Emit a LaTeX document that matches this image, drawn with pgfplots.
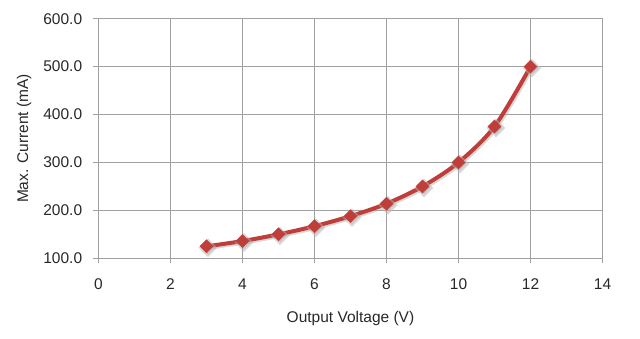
\documentclass[border=0pt]{standalone}
\usepackage{fontspec}
\setmainfont{Liberation Sans}
\usepackage{pgfplots}
\pgfplotsset{compat=1.18}
\definecolor{linered}{RGB}{192,62,58}
\definecolor{gridgray}{RGB}{160,160,160}
\definecolor{txt}{RGB}{40,40,40}
\begin{document}
\fontsize{15.5bp}{18bp}\selectfont
\begin{tikzpicture}
\path[use as bounding box] (-98.5bp,-80.7bp) rectangle (541.5bp,258.3bp);
\begin{axis}[
  at={(0,0)}, anchor=south west,
  scale only axis, width=504bp, height=239.6bp,
  xmin=0, xmax=14, ymin=100, ymax=600,
  xtick={0,2,...,14}, ytick={100,200,...,600},
  grid=major,
  grid style={gridgray, line width=0.8bp},
  axis line style={gridgray, line width=0.8bp},
  tick style={gridgray, line width=0.8bp},
  major tick length=5bp,
  tick align=outside,
  xtick pos=bottom, ytick pos=left,
  /pgf/number format/assume math mode=true,
  yticklabel={\pgfmathprintnumber[fixed,fixed zerofill,precision=1]{\tick}},
  ticklabel style={font=\fontsize{15.5bp}{18bp}\selectfont, text=txt},
  xticklabel style={yshift=-10bp},
  yticklabel style={xshift=-6bp},
  xlabel={Output Voltage (V)},
  ylabel={Max. Current (mA)},
  label style={font=\fontsize{15.5bp}{18bp}\selectfont, text=txt},
  xlabel style={at={([yshift=-60.5bp]axis description cs:0.5,0)}, anchor=center},
  ylabel style={at={([xshift=-74.5bp]axis description cs:0,0.5)}, anchor=center},
]
\addplot[smooth, black!30, opacity=0.5, line width=4bp, xshift=1.5bp, yshift=-1.5bp,
  mark=square*, mark size=4.6bp, mark options={rotate=45, fill=black!30, draw=none}]
  coordinates {(3,125) (4,136) (5,150) (6,167) (7,188) (8,214) (9,250) (10,300) (11,375) (12,500)};
\addplot[smooth, linered, line width=4bp,
  mark=square*, mark size=4.6bp, mark options={rotate=45, fill=linered, draw=linered, line width=0.5bp}]
  coordinates {(3,125) (4,136) (5,150) (6,167) (7,188) (8,214) (9,250) (10,300) (11,375) (12,500)};
\end{axis}
\end{tikzpicture}
\end{document}
